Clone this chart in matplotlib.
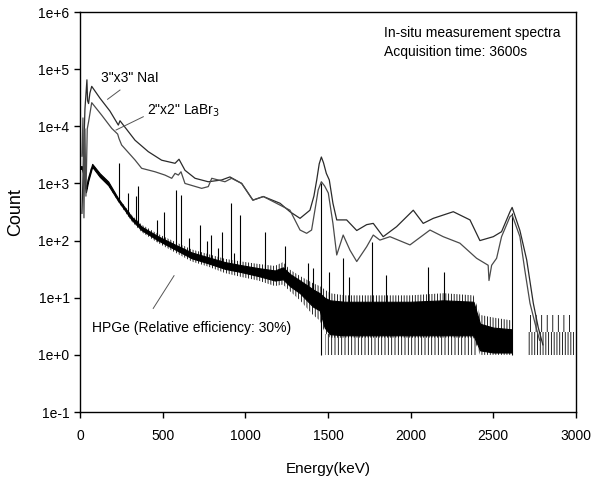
import numpy as np
import matplotlib.pyplot as plt
from matplotlib.ticker import FixedLocator, FixedFormatter, NullLocator

plt.rcParams['font.family'] = ['Liberation Sans', 'DejaVu Sans']
plt.rcParams['hatch.linewidth'] = 0.6

# 3"x3" NaI spectrum (energy keV, counts)
nai_energy = [12, 30, 42, 46, 52, 60, 71, 121, 181, 232, 242, 333, 413, 494, 575, 599, 635,
              696, 776, 857, 907, 978, 1046, 1109, 1210, 1270, 1331, 1391, 1415, 1432, 1447,
              1460, 1473, 1490, 1508, 1530, 1553, 1613, 1674, 1734, 1774, 1834, 1915, 2016,
              2076, 2137, 2258, 2359, 2419, 2500, 2550, 2601, 2614, 2661, 2702, 2742, 2772, 2800]
nai_count = [300, 20000, 65000, 28000, 25000, 38000, 50000, 31000, 18500, 10500, 12500, 5700,
             3600, 2550, 2250, 2650, 1700, 1230, 1070, 1150, 1300, 1000, 510, 590, 450, 320,
             245, 340, 600, 1150, 2200, 2900, 2300, 1500, 1150, 450, 230, 230, 150, 190, 200,
             117, 175, 340, 200, 245, 320, 230, 100, 117, 143, 320, 380, 150, 46, 8, 3, 1.5]

# 2"x2" LaBr3 spectrum
labr_energy = [12, 18, 24, 30, 36, 44, 52, 71, 131, 192, 228, 236, 252, 333, 373, 454, 514,
               555, 575, 595, 611, 635, 736, 776, 797, 877, 917, 978, 1046, 1109, 1270, 1331,
               1371, 1401, 1425, 1441, 1460, 1480, 1502, 1530, 1553, 1592, 1633, 1674, 1734,
               1774, 1814, 1875, 1996, 2117, 2197, 2298, 2399, 2469, 2474, 2490, 2520, 2550,
               2601, 2614, 2661, 2691, 2722, 2752, 2780]
labr_count = [3000, 14000, 250, 9000, 600, 9000, 12000, 25900, 15700, 9200, 7300, 6100, 4700,
              2570, 1840, 1600, 1400, 1230, 1500, 1400, 1600, 1000, 820, 880, 1230, 1070, 1230,
              1000, 510, 590, 340, 153, 134, 153, 400, 770, 1070, 900, 680, 200, 56, 125, 68,
              43, 78, 125, 102, 117, 84, 153, 117, 90, 49, 37, 20, 37, 49, 117, 262, 280, 117,
              30, 8, 3.6, 1.8]

# HPGe continuum: outer edge of the noise band and its solid core
hpge_energy = [0, 12, 24, 36, 50, 74, 120, 171, 232, 313, 373, 474, 575, 676, 776, 877, 978,
               1078, 1179, 1228, 1270, 1331, 1409, 1450, 1480, 1512, 1600, 1800, 2000, 2200,
               2380, 2420, 2500, 2612]
hpge_high = [2000, 2000, 1500, 800, 1300, 2200, 1500, 1080, 560, 280, 190, 130, 95, 70, 58,
             48, 43, 39, 36, 42, 31, 24, 18, 16, 14, 12, 11, 11, 11, 12, 11, 5, 4.5, 4]
hpge_low = [1800, 1800, 1300, 700, 1100, 1950, 1300, 930, 470, 215, 140, 90, 62, 43, 35, 27,
            23, 20, 16, 17, 13, 9, 5, 4, 2.5, 2, 2, 2, 2, 2, 2, 1, 1, 1]
hpge_core_high = [2000, 2000, 1500, 800, 1300, 2200, 1500, 1080, 540, 260, 175, 118, 85, 62,
                  51, 42, 37, 33, 30, 34, 26, 20, 14, 12, 10, 9, 8.5, 8.5, 8.5, 9, 8.5, 3.5,
                  3, 2.8]
hpge_core_low = [1800, 1800, 1300, 700, 1100, 1950, 1300, 930, 490, 230, 152, 100, 70, 49, 40,
                 32, 28, 24, 20, 21, 16, 12, 7, 6, 3, 2.3, 2.2, 2.2, 2.2, 2.2, 2.2, 1.2, 1.1, 1.1]

# sparse low-count region (1-2 counts)
sparse_energy = [1480, 2400]
sparse_low = [1, 1]
sparse_high = [2.3, 2.3]

# tail after the 2614 keV peak
tail_energy = [2705, 2990]
tail_low = [1, 1]
tail_dense = [2.5, 2.5]
tail_high = [5, 5]

# HPGe photopeaks: energy, top count, continuum under the peak
peak_energy = [236, 292, 339, 349, 464, 510, 581, 611, 661, 726, 766, 792, 833, 857, 911,
               933, 966, 1119, 1240, 1377, 1407, 1460, 1508, 1588, 1630, 1764, 1848, 2107,
               2204, 2614]
peak_count = [2240, 690, 600, 900, 230, 320, 770, 630, 110, 190, 100, 125, 75, 140, 460, 60,
              280, 140, 80, 40, 33, 1000, 28, 50, 23, 95, 25, 35, 28, 300]
peak_base = [520, 270, 200, 190, 100, 90, 75, 70, 60, 50, 46, 44, 40, 38, 35, 34, 32, 28,
             26, 14, 13, 1, 5, 5, 5, 5, 5, 5, 5, 1]

x_ticks = [0, 500, 1000, 1500, 2000, 2500, 3000]
y_ticks = [1e-1, 1e0, 1e1, 1e2, 1e3, 1e4, 1e5, 1e6]
y_tick_labels = ["1e-1", "1e+0", "1e+1", "1e+2", "1e+3", "1e+4", "1e+5", "1e+6"]

fig = plt.figure(figsize=(5.92, 4.82), dpi=100)
ax = fig.add_axes([0.1351, 0.1452, 0.8378, 0.8299])

# HPGe
ax.fill_between(hpge_energy, hpge_low, hpge_high, facecolor='none',
                edgecolor='black', hatch='||||||', lw=0)
ax.fill_between(hpge_energy, hpge_core_low, hpge_core_high, color='black', lw=0.8)
ax.fill_between(sparse_energy, sparse_low, sparse_high, facecolor='none',
                edgecolor='black', hatch='|||||', lw=0)
ax.fill_between(tail_energy, tail_low, tail_dense, facecolor='none',
                edgecolor='black', hatch='||||||', lw=0)
ax.fill_between(tail_energy, tail_dense, tail_high, facecolor='none',
                edgecolor='black', hatch='|||', lw=0)
ax.vlines(peak_energy, peak_base, peak_count, color='black', lw=0.8)

# scintillators
ax.plot(nai_energy, nai_count, color='#2a2a2a', lw=0.9)
ax.plot(labr_energy, labr_count, color='#4a4a4a', lw=0.9)

ax.set_yscale('log')
ax.set_xlim(0, 3000)
ax.set_ylim(1e-1, 1e6)
ax.xaxis.set_major_locator(FixedLocator(x_ticks))
ax.yaxis.set_major_locator(FixedLocator(y_ticks))
ax.yaxis.set_major_formatter(FixedFormatter(y_tick_labels))
ax.yaxis.set_minor_locator(NullLocator())
ax.tick_params(direction='out', length=4, width=1, labelsize=10)
ax.tick_params(axis='x', pad=8)
for s in ax.spines.values():
    s.set_linewidth(1)

ax.set_xlabel("Energy(keV)", fontsize=11, labelpad=14)
ax.set_ylabel("Count", fontsize=13, labelpad=10)

# labels with leader lines
ax.plot([167, 242], [29700, 43100], color='#555555', lw=0.7)
ax.text(130, 7.0e4, '3"x3" NaI', fontsize=10, va='center')
ax.plot([218, 383], [8600, 14700], color='#555555', lw=0.7)
ax.text(405, 1.9e4, '2"x2" LaBr$_3$', fontsize=10, va='center')
ax.plot([443, 569], [6.5, 24.3], color='#555555', lw=0.7)
ax.text(70, 3.0, 'HPGe (Relative efficiency: 30%)', fontsize=10, va='center')

ax.text(0.6135, 0.947, 'In-situ measurement spectra', transform=ax.transAxes,
        fontsize=10, va='center')
ax.text(0.6135, 0.90, 'Acquisition time: 3600s', transform=ax.transAxes,
        fontsize=10, va='center')

plt.savefig('out.png', dpi=100)
